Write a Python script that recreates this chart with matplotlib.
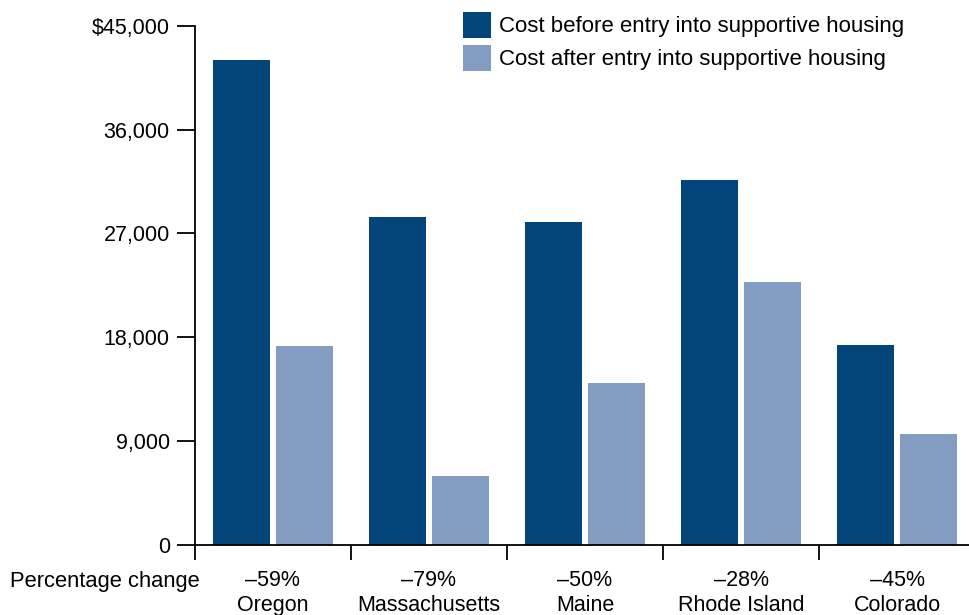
import numpy as np
import matplotlib.pyplot as plt

plt.rcParams['font.family'] = ['Liberation Sans', 'DejaVu Sans']

# Data
states = ['Oregon', 'Massachusetts', 'Maine', 'Rhode Island', 'Colorado']
pct_change = ['\u201359%', '\u201379%', '\u201350%', '\u201328%', '\u201345%']
cost_before = [42000, 28400, 28000, 31600, 17300]
cost_after = [17200, 6000, 14000, 22800, 9600]
yticks = [0, 9000, 18000, 27000, 36000, 45000]
ytick_labels = ['0', '9,000', '18,000', '27,000', '36,000', '$45,000']

dark = '#03447b'
light = '#839cc2'
fs = 15.5

fig = plt.figure(figsize=(9.69, 6.15), dpi=100)
ax = fig.add_axes([0.201, 0.114, 0.799, 0.844])

x = np.arange(len(states))
w = 0.365
gap = 0.038
ax.bar(x - (w + gap) / 2, cost_before, width=w, color=dark,
       label='Cost before entry into supportive housing')
ax.bar(x + (w + gap) / 2, cost_after, width=w, color=light,
       label='Cost after entry into supportive housing')

ax.set_ylim(0, 45000)
ax.set_xlim(-0.5, 4.46)
ax.set_yticks(yticks)
ax.set_yticklabels(ytick_labels, fontsize=fs)

# group boundary ticks on x axis
ax.set_xticks(np.arange(len(states)) - 0.5)
ax.set_xticklabels([])
ax.tick_params(axis='x', direction='out', length=11, width=1.3, color='black')
ax.tick_params(axis='y', direction='out', length=13, width=1.3, color='black', pad=5)

for s in ['top', 'right']:
    ax.spines[s].set_visible(False)
ax.spines['left'].set_linewidth(1.3)
ax.spines['bottom'].set_linewidth(1.3)

# percentage change and state labels below axis
trans = ax.get_xaxis_transform()
for i in x:
    ax.text(i, -0.069, pct_change[i], transform=trans, ha='center', va='center', fontsize=fs)
    ax.text(i, -0.1175, states[i], transform=trans, ha='center', va='center', fontsize=fs)
fig.text(10 / 969, 1 - 581 / 615, 'Percentage change', ha='left', va='center', fontsize=15.8)

ax.legend(loc='upper left', bbox_to_anchor=(0.321, 1.066), frameon=False, fontsize=16,
          handlelength=1.25, handleheight=1.45, handletextpad=0.35, labelspacing=0.3)

fig.savefig('out.png', dpi=100)
